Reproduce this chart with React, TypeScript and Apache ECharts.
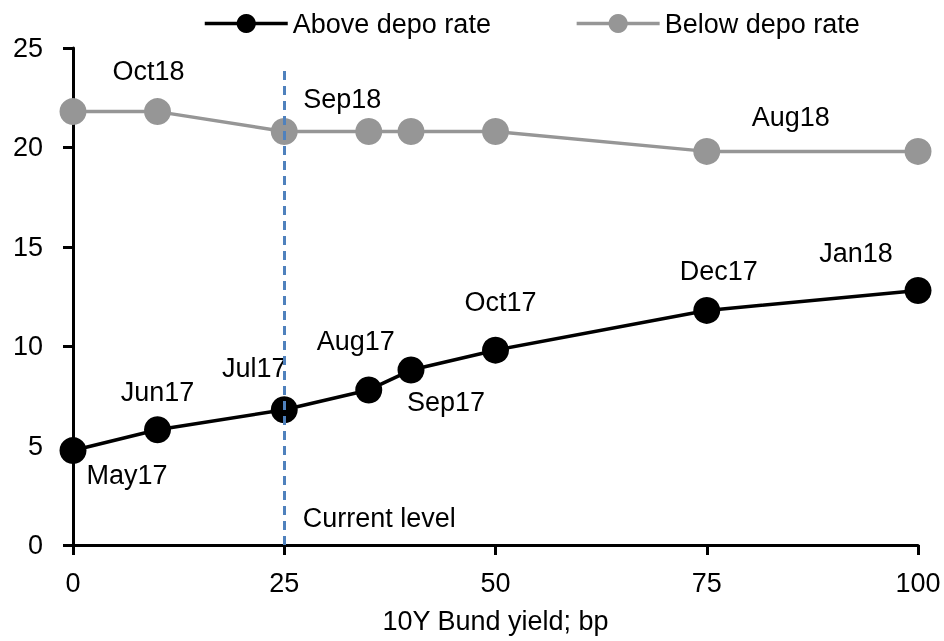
import React, { useEffect, useRef } from "react";
import * as echarts from "echarts";

const xValues = [0, 10, 25, 35, 40, 50, 75, 100];
const aboveDepo = [4.75, 5.8, 6.8, 7.8, 8.8, 9.8, 11.8, 12.8];
const belowDepo = [21.8, 21.8, 20.8, 20.8, 20.8, 20.8, 19.8, 19.8];
const aboveLabels = ["May17", "Jun17", "Jul17", "Aug17", "Sep17", "Oct17", "Dec17", "Jan18"];
const belowLabels = ["", "Oct18", "Sep18", "", "", "", "Aug18", ""];
const seriesNames = ["Above depo rate", "Below depo rate"];
const currentLevel = 25;
const currentLevelTop = 24;
const currentLevelText = "Current level";
const xAxisName = "10Y Bund yield; bp";

const FONT = "'Liberation Sans', Arial, sans-serif";
const FS = 27;

const aboveOffsets = [[54, 24], [0, -38], [-30, -42], [-13, -49], [35, 32], [5, -48], [12, -39], [-62, -38]];
const belowOffsets = [[0, 0], [-9, -41], [58, -32], [0, 0], [0, 0], [0, 0], [84, -34], [0, 0]];

function buildData(ys: number[], labels: string[], offsets: number[][]) {
  return xValues.map((x, i) => ({
    value: [x, ys[i]],
    label: {
      show: labels[i] !== "",
      formatter: labels[i],
      position: "inside",
      align: "center",
      verticalAlign: "middle",
      offset: offsets[i],
      color: "#000",
      fontSize: FS,
      fontFamily: FONT,
    },
  }));
}

export default function App() {
  const ref = useRef<HTMLDivElement>(null);
  useEffect(() => {
    if (!ref.current) return;
    const chart = echarts.init(ref.current, null, { renderer: "svg" });
    chart.setOption({
      animation: false,
      textStyle: { fontFamily: FONT },
      legend: {
        data: seriesNames,
        left: 198,
        top: 5,
        itemWidth: 83,
        itemHeight: 24,
        itemGap: 84,
        lineStyle: { width: 3.5 },
        textStyle: { fontSize: FS, fontFamily: FONT, color: "#000" },
      },
      grid: { left: 73, right: 26, top: 48, bottom: 96, outerBoundsMode: "none" },
      xAxis: {
        type: "value",
        min: 0,
        max: 100,
        interval: 25,
        name: xAxisName,
        nameLocation: "middle",
        nameGap: 62,
        nameTextStyle: { fontSize: FS, fontFamily: FONT, color: "#000" },
        splitLine: { show: false },
        axisLine: { lineStyle: { color: "#000", width: 3 } },
        axisTick: { show: true, length: 10, lineStyle: { color: "#000", width: 3 } },
        axisLabel: { fontSize: FS, fontFamily: FONT, color: "#000", margin: 24 },
      },
      yAxis: {
        type: "value",
        min: 0,
        max: 25,
        interval: 5,
        splitLine: { show: false },
        axisLine: { show: true, lineStyle: { color: "#000", width: 3 } },
        axisTick: { show: true, length: 10, lineStyle: { color: "#000", width: 3 } },
        axisLabel: { fontSize: FS, fontFamily: FONT, color: "#000", margin: 30 },
      },
      series: [
        {
          name: seriesNames[0],
          type: "line",
          data: buildData(aboveDepo, aboveLabels, aboveOffsets),
          symbol: "circle",
          symbolSize: 27,
          lineStyle: { color: "#000", width: 3.5 },
          itemStyle: { color: "#000" },
          emphasis: { disabled: true },
          z: 3,
        },
        {
          name: seriesNames[1],
          type: "line",
          data: buildData(belowDepo, belowLabels, belowOffsets),
          symbol: "circle",
          symbolSize: 27,
          lineStyle: { color: "#969696", width: 3.5 },
          itemStyle: { color: "#969696" },
          emphasis: { disabled: true },
          z: 2,
        },
        {
          type: "line",
          data: [],
          z: 10,
          silent: true,
          markLine: {
            silent: true,
            symbol: "none",
            label: { show: false },
            lineStyle: { color: "#4f81bd", width: 3, type: [9, 6] },
            emphasis: { disabled: true },
            data: [[{ coord: [currentLevel, 0] }, { coord: [currentLevel, currentLevelTop] }]],
          },
          markPoint: {
            silent: true,
            symbol: "circle",
            symbolSize: 0,
            data: [{ coord: [currentLevel, 0], value: 0 }],
            label: {
              show: true,
              formatter: currentLevelText,
              position: "inside",
              align: "center",
              verticalAlign: "middle",
              offset: [95, -27],
              color: "#000",
              fontSize: FS,
              fontFamily: FONT,
            },
          },
        },
      ],
    });
    return () => chart.dispose();
  }, []);
  return (
    <div
      ref={ref}
      style={{ position: "fixed", left: 0, top: 0, width: 944, height: 641 }}
    />
  );
}
